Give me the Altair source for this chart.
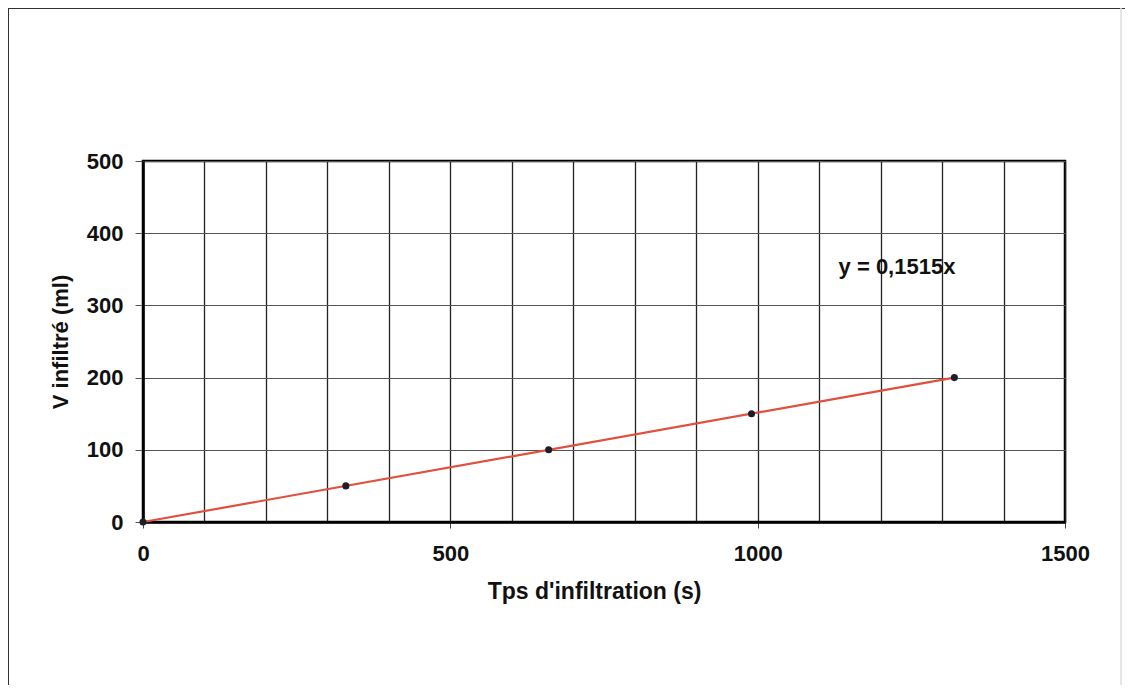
import altair as alt
import pandas as pd

# data
tps = [0, 330, 660, 990, 1320]          # Tps d'infiltration (s)
vol = [0, 50, 100, 150, 200]            # V infiltré (ml)
x_grid = list(range(0, 1501, 100))
y_grid = list(range(0, 501, 100))
equation = "y = 0,1515x"

df = pd.DataFrame({"t": tps, "v": vol})
FONT = "Liberation Sans"

base = alt.Chart(df)

x_enc = alt.X(
    "t:Q",
    scale=alt.Scale(domain=[0, 1500], nice=False),
    axis=alt.Axis(
        values=x_grid,
        labelExpr="datum.value % 500 === 0 ? datum.label : ''",
        labelFlush=False,
        title="Tps d'infiltration (s)",
        titleX=451,
        grid=True,
        gridColor="#222222",
        gridWidth=1.3,
        domainColor="#000000",
        domainWidth=2.5,
        tickColor="#444444",
        tickSize=6,
        tickOpacity={"condition": {"test": "datum.value % 500 === 0", "value": 1}, "value": 0},
        labelPadding=15,
        labelFont=FONT,
        labelFontSize=22,
        labelFontWeight="bold",
        labelColor="#111111",
        titleFont=FONT,
        titleFontSize=23,
        titleFontWeight="bold",
        titleColor="#111111",
        titlePadding=16,
        format="d",
    ),
)
y_enc = alt.Y(
    "v:Q",
    scale=alt.Scale(domain=[0, 500], nice=False),
    axis=alt.Axis(
        values=y_grid,
        title="V infiltré (ml)",
        grid=True,
        gridColor="#555555",
        gridWidth=1.2,
        domainColor="#000000",
        domainWidth=2.5,
        tickColor="#555555",
        tickSize=8,
        labelPadding=12,
        labelFont=FONT,
        labelFontSize=22,
        labelFontWeight="bold",
        labelColor="#111111",
        titleFont=FONT,
        titleFontSize=22,
        titleFontWeight="bold",
        titleColor="#111111",
        titlePadding=14,
        format="d",
    ),
)

trend = base.transform_regression("t", "v", method="linear", extent=[0, 1320]).mark_line(
    color="#e0503c", strokeWidth=2.2
).encode(x=x_enc, y=y_enc)

points = base.mark_circle(size=50, color="#1e1e2a", opacity=1).encode(x="t:Q", y="v:Q")

label = alt.Chart(alt.Data(values=[{"txt": equation}])).mark_text(
    font=FONT, fontSize=22, fontWeight="bold", color="#111111", align="center", baseline="middle"
).encode(text="txt:N", x=alt.value(754), y=alt.value(106))

one = alt.Data(values=[{}])
border_top = alt.Chart(one).mark_rule(color="#333333", strokeWidth=2).encode(
    x=alt.value(-135), x2=alt.value(985), y=alt.value(-153))
border_left = alt.Chart(one).mark_rule(color="#333333", strokeWidth=2).encode(
    x=alt.value(-135), y=alt.value(-153), y2=alt.value(527))
border_right = alt.Chart(one).mark_rule(color="#dddddd", strokeWidth=1.5).encode(
    x=alt.value(978), y=alt.value(-153), y2=alt.value(527))
border_bottom = alt.Chart(one).mark_rule(color="#e4e4e4", strokeWidth=1.5).encode(
    x=alt.value(-135), x2=alt.value(978), y=alt.value(527))

chart = alt.layer(trend, points, label, border_top, border_left, border_right, border_bottom).properties(
    width=922,
    height=361,
    autosize=alt.AutoSizeParams(type="none"),
    padding={"left": 135, "top": 153, "right": 60, "bottom": 163},
    background="white",
).configure_view(stroke="#000000", strokeWidth=2.5)

chart.save("out.html", embed_options={"renderer": "svg", "actions": False})
